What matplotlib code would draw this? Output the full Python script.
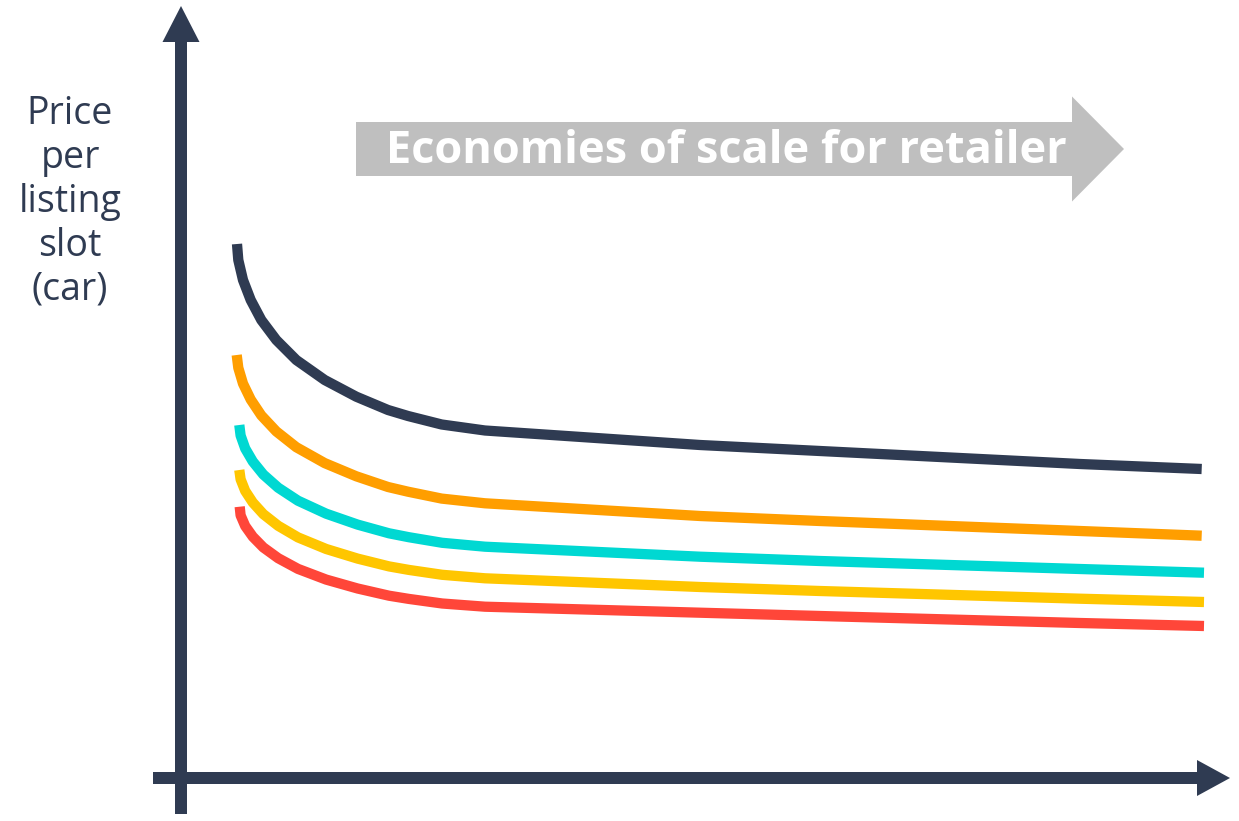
import matplotlib
matplotlib.use("Agg")
import matplotlib.pyplot as plt
from matplotlib.patches import FancyArrow

# ---- data (conceptual units: volume vs price per listing slot) ----
navy_x = [5.6, 5.73, 6.2, 6.97, 8.03, 9.53, 11.53, 14.37, 17.53, 20.7, 22.7, 26.07, 30.4,
          51.9, 63.9, 89.9, 102.07]
navy_y = [53.4, 51.8, 49.8, 47.8, 45.8, 43.8, 41.8, 39.8, 38.13, 36.8, 36.2, 35.35, 34.75,
          33.3, 32.7, 31.4, 30.9]

orange_x = [5.57, 5.73, 6.2, 6.97, 8.03, 9.53, 11.53, 14.37, 17.53, 20.7, 22.7, 26.07, 30.4,
            51.9, 63.9, 89.9, 102.07]
orange_y = [42.3, 41.02, 39.44, 37.85, 36.26, 34.66, 33.08, 31.49, 30.17, 29.1, 28.63, 27.94, 27.47,
            26.2, 25.7, 24.7, 24.23]

cyan_x = [5.83, 5.96, 6.42, 7.18, 8.23, 9.72, 11.7, 14.52, 17.66, 20.8, 22.78, 26.12, 30.4,
          51.9, 63.9, 89.9, 102.3]
cyan_y = [35.3, 34.25, 32.95, 31.65, 30.35, 29.03, 27.73, 26.43, 25.34, 24.47, 24.08, 23.52, 23.13,
          22.13, 21.7, 20.9, 20.53]

yellow_x = [5.83, 5.96, 6.42, 7.18, 8.23, 9.72, 11.7, 14.52, 17.66, 20.8, 22.78, 26.12, 30.4,
            51.9, 63.9, 89.9, 102.3]
yellow_y = [30.8, 29.87, 28.71, 27.55, 26.39, 25.22, 24.06, 22.9, 21.94, 21.16, 20.81, 20.32, 19.97,
            19.1, 18.7, 17.93, 17.6]

red_x = [5.87, 5.96, 6.42, 7.18, 8.23, 9.72, 11.7, 14.52, 17.66, 20.8, 22.78, 26.12, 30.4,
         51.9, 63.9, 89.9, 102.3]
red_y = [27.13, 26.27, 25.2, 24.13, 23.06, 21.98, 20.91, 19.84, 18.95, 18.23, 17.91, 17.45, 17.13,
         16.53, 16.2, 15.5, 15.2]

series_colors = ["#2F3B52", "#FF9E00", "#00D8D2", "#FFC600", "#FF4639"]

y_label = "Price\nper\nlisting\nslot\n(car)"
banner_text = "Economies of scale for retailer"

AXIS_COLOR = "#2F3B52"
GRAY = "#BFBFBF"
FONT = ["Open Sans", "DejaVu Sans"]

fig = plt.figure(figsize=(12.39, 8.21), dpi=100)
ax = fig.add_axes([0, 0, 1, 1])
ax.set_xlim(-18.1, 105.8)
ax.set_ylim(-4.3, 77.8)
ax.axis("off")

# axes arrows
ax.add_patch(FancyArrow(0, -3.6, 0, 80.8, width=1.2, head_width=3.7, head_length=3.6,
                        length_includes_head=True, color=AXIS_COLOR, lw=0))
ax.add_patch(FancyArrow(-2.8, 0, 107.7, 0, width=1.2, head_width=3.6, head_length=3.3,
                        length_includes_head=True, color=AXIS_COLOR, lw=0))

# banner arrow
ax.add_patch(FancyArrow(17.5, 62.9, 76.8, 0, width=5.4, head_width=10.5, head_length=5.2,
                        length_includes_head=True, color=GRAY, lw=0))
ax.text(54.5, 61.5, banner_text, ha="center", va="baseline", color="white",
        fontsize=32.5, fontweight="bold", family=FONT)

# y label
ax.text(-11.1, 57.6, y_label, ha="center", va="center", color=AXIS_COLOR,
        fontsize=27, linespacing=1.2, family=FONT)

# curves
for xs, ys, c in zip([navy_x, orange_x, cyan_x, yellow_x, red_x],
                     [navy_y, orange_y, cyan_y, yellow_y, red_y],
                     series_colors):
    ax.plot(xs, ys, color=c, lw=7.4, solid_capstyle="butt", solid_joinstyle="round")

fig.savefig("out.png", dpi=100)
